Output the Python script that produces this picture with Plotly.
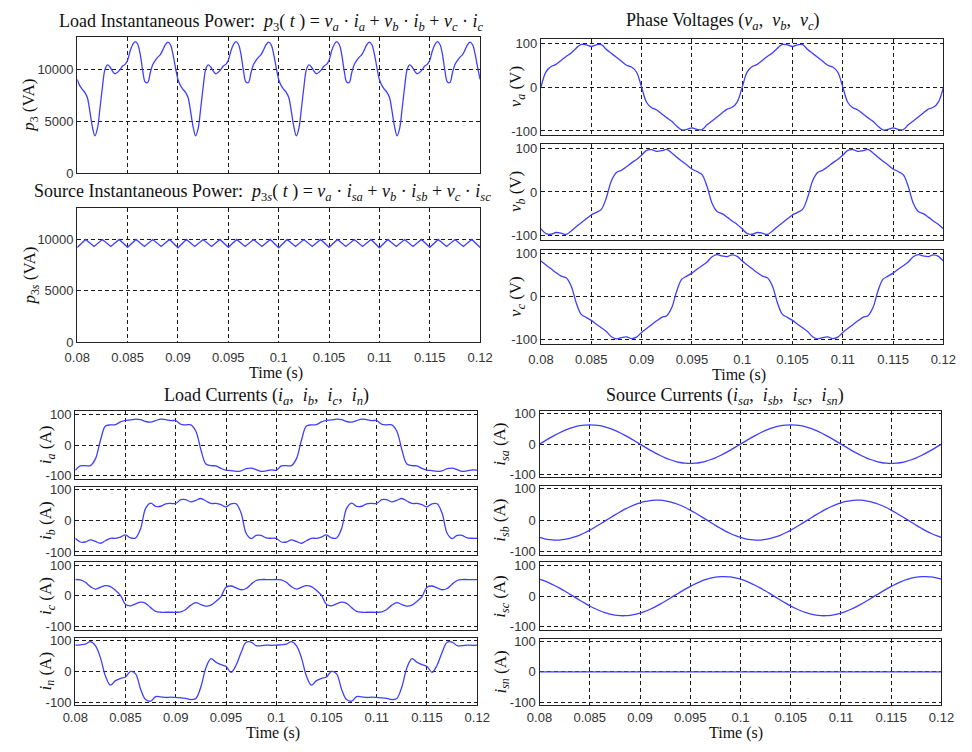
import plotly.graph_objects as go

# ---------------- sample instants (s) ----------------
t_half = [
    0.08, 0.0805, 0.081, 0.0815, 0.082, 0.0825, 0.083, 0.0835, 0.084, 0.0845,
    0.085, 0.0855, 0.086, 0.0865, 0.087, 0.0875, 0.088, 0.0885, 0.089, 0.0895,
    0.09, 0.0905, 0.091, 0.0915, 0.092, 0.0925, 0.093, 0.0935, 0.094, 0.0945,
    0.095, 0.0955, 0.096, 0.0965, 0.097, 0.0975, 0.098, 0.0985, 0.099, 0.0995,
    0.1, 0.1005, 0.101, 0.1015, 0.102, 0.1025, 0.103, 0.1035, 0.104, 0.1045,
    0.105, 0.1055, 0.106, 0.1065, 0.107, 0.1075, 0.108, 0.1085, 0.109, 0.1095,
    0.11, 0.1105, 0.111, 0.1115, 0.112, 0.1125, 0.113, 0.1135, 0.114, 0.1145,
    0.115, 0.1155, 0.116, 0.1165, 0.117, 0.1175, 0.118, 0.1185, 0.119, 0.1195,
    0.12,
]

t_quarter = [
    0.08, 0.08025, 0.0805, 0.08075, 0.081, 0.08125, 0.0815, 0.08175, 0.082, 0.08225,
    0.0825, 0.08275, 0.083, 0.08325, 0.0835, 0.08375, 0.084, 0.08425, 0.0845, 0.08475,
    0.085, 0.08525, 0.0855, 0.08575, 0.086, 0.08625, 0.0865, 0.08675, 0.087, 0.08725,
    0.0875, 0.08775, 0.088, 0.08825, 0.0885, 0.08875, 0.089, 0.08925, 0.0895, 0.08975,
    0.09, 0.09025, 0.0905, 0.09075, 0.091, 0.09125, 0.0915, 0.09175, 0.092, 0.09225,
    0.0925, 0.09275, 0.093, 0.09325, 0.0935, 0.09375, 0.094, 0.09425, 0.0945, 0.09475,
    0.095, 0.09525, 0.0955, 0.09575, 0.096, 0.09625, 0.0965, 0.09675, 0.097, 0.09725,
    0.0975, 0.09775, 0.098, 0.09825, 0.0985, 0.09875, 0.099, 0.09925, 0.0995, 0.09975,
    0.1, 0.10025, 0.1005, 0.10075, 0.101, 0.10125, 0.1015, 0.10175, 0.102, 0.10225,
    0.1025, 0.10275, 0.103, 0.10325, 0.1035, 0.10375, 0.104, 0.10425, 0.1045, 0.10475,
    0.105, 0.10525, 0.1055, 0.10575, 0.106, 0.10625, 0.1065, 0.10675, 0.107, 0.10725,
    0.1075, 0.10775, 0.108, 0.10825, 0.1085, 0.10875, 0.109, 0.10925, 0.1095, 0.10975,
    0.11, 0.11025, 0.1105, 0.11075, 0.111, 0.11125, 0.1115, 0.11175, 0.112, 0.11225,
    0.1125, 0.11275, 0.113, 0.11325, 0.1135, 0.11375, 0.114, 0.11425, 0.1145, 0.11475,
    0.115, 0.11525, 0.1155, 0.11575, 0.116, 0.11625, 0.1165, 0.11675, 0.117, 0.11725,
    0.1175, 0.11775, 0.118, 0.11825, 0.1185, 0.11875, 0.119, 0.11925, 0.1195, 0.11975,
    0.12,
]

t_ripple = [
    0.08, 0.080833, 0.081667, 0.0825, 0.083333, 0.084167, 0.085, 0.085833,
    0.086667, 0.0875, 0.088333, 0.089167, 0.09, 0.090833, 0.091667, 0.0925,
    0.093333, 0.094167, 0.095, 0.095833, 0.096667, 0.0975, 0.098333, 0.099167,
    0.1, 0.100833, 0.101667, 0.1025, 0.103333, 0.104167, 0.105, 0.105833,
    0.106667, 0.1075, 0.108333, 0.109167, 0.11, 0.110833, 0.111667, 0.1125,
    0.113333, 0.114167, 0.115, 0.115833, 0.116667, 0.1175, 0.118333, 0.119167,
    0.12,
]

# ---------------- instantaneous power (VA) ----------------
p3 = [
    9050, 8450, 8100, 7800, 7300, 6000, 4500, 3600, 4300, 6200,
    8300, 10000, 10450, 10250, 9850, 9600, 9750, 10000, 10350, 10500,
    10900, 11800, 12400, 12700, 12450, 11500, 9900, 8800, 8750, 9700,
    10500, 10900, 11200, 11450, 11900, 12400, 12650, 12400, 11500, 10200,
    9050, 8450, 8100, 7800, 7300, 6000, 4500, 3600, 4300, 6200,
    8300, 10000, 10450, 10250, 9850, 9600, 9750, 10000, 10350, 10500,
    10900, 11800, 12400, 12700, 12450, 11500, 9900, 8800, 8750, 9700,
    10500, 10900, 11200, 11450, 11900, 12400, 12650, 12400, 11500, 10200,
    9050, 8450, 8100, 7800, 7300, 6000, 4500, 3600, 4300, 6200,
    8300, 10000, 10450, 10250, 9850, 9600, 9750, 10000, 10350, 10500,
    10900, 11800, 12400, 12700, 12450, 11500, 9900, 8800, 8750, 9700,
    10500, 10900, 11200, 11450, 11900, 12400, 12650, 12400, 11500, 10200,
    9050, 8450, 8100, 7800, 7300, 6000, 4500, 3600, 4300, 6200,
    8300, 10000, 10450, 10250, 9850, 9600, 9750, 10000, 10350, 10500,
    10900, 11800, 12400, 12700, 12450, 11500, 9900, 8800, 8750, 9700,
    10500, 10900, 11200, 11450, 11900, 12400, 12650, 12400, 11500, 10200,
    9050,
]

p3s = [
    9180, 9960, 9280, 9960, 9280, 9960, 9200, 9960,
    9280, 9960, 9280, 9960, 9150, 9960, 9280, 9960,
    9280, 9960, 9200, 9960, 9280, 9960, 9280, 9960,
    9150, 9960, 9280, 9960, 9280, 9960, 9200, 9960,
    9280, 9960, 9280, 9960, 9150, 9960, 9280, 9960,
    9280, 9960, 9200, 9960, 9280, 9960, 9280, 9960,
    9180,
]

# ---------------- phase voltages (V) ----------------
va = [
    0, 35, 47, 52, 61, 70, 78, 89, 97.5, 96.5, 93, 96.5, 97, 86, 77, 68, 59, 50, 46, 34,
    0, -35, -47, -52, -61, -70, -78, -89, -97.5, -96.5, -93, -96.5, -97, -86, -77, -68, -59, -50, -46, -34,
    0, 35, 47, 52, 61, 70, 78, 89, 97.5, 96.5, 93, 96.5, 97, 86, 77, 68, 59, 50, 46, 34,
    0, -35, -47, -52, -61, -70, -78, -89, -97.5, -96.5, -93, -96.5, -97, -86, -77, -68, -59, -50, -46, -34,
    0,
]

vb = [
    -85, -96, -97.5, -93.5, -95, -98, -90, -80, -71, -62, -53, -47, -40, -13, 26, 45, 50, 58, 67, 75,
    85, 96, 97.5, 93.5, 95, 98, 90, 80, 71, 62, 53, 47, 40, 13, -26, -45, -50, -58, -67, -75,
    -85, -96, -97.5, -93.5, -95, -98, -90, -80, -71, -62, -53, -47, -40, -13, 26, 45, 50, 58, 67, 75,
    85, 96, 97.5, 93.5, 95, 98, 90, 80, 71, 62, 53, 47, 40, 13, -26, -45, -50, -58, -67, -75,
    -85,
]

vc = [
    83, 74, 65, 56, 48, 44, 25, -14, -41, -48, -55, -64, -72, -81, -93, -98, -95, -93.5, -97.5, -94,
    -83, -74, -65, -56, -48, -44, -25, 14, 41, 48, 55, 64, 72, 81, 93, 98, 95, 93.5, 97.5, 94,
    83, 74, 65, 56, 48, 44, 25, -14, -41, -48, -55, -64, -72, -81, -93, -98, -95, -93.5, -97.5, -94,
    -83, -74, -65, -56, -48, -44, -25, 14, 41, 48, 55, 64, 72, 81, 93, 98, 95, 93.5, 97.5, 94,
    83,
]

# ---------------- load currents (A) ----------------
ia = [
    -82, -68, -67, -67, -45, 15, 62, 66, 67, 76, 81, 82, 85, 83, 77, 75, 80, 85, 83, 80,
    80, 68, 66, 66, 45, -15, -62, -67, -68, -76, -82, -83, -86, -84, -77, -75, -80, -86, -84, -81,
    -82, -68, -67, -67, -45, 15, 62, 66, 67, 76, 81, 82, 85, 83, 77, 75, 80, 85, 83, 80,
    80, 68, 66, 66, 45, -15, -62, -67, -68, -76, -82, -83, -86, -84, -77, -75, -80, -86, -84, -81,
    -82,
]

ib = [
    -56, -68, -68, -61, -66, -72, -64, -56, -56, -52, -45, -55, -55, -25, 40, 57, 47, 47, 55, 56,
    56, 68, 68, 61, 66, 72, 64, 56, 56, 52, 45, 55, 55, 25, -40, -57, -47, -47, -55, -56,
    -56, -68, -68, -61, -66, -72, -64, -56, -56, -52, -45, -55, -55, -25, 40, 57, 47, 47, 55, 56,
    56, 68, 68, 61, 66, 72, 64, 56, 56, 52, 45, 55, 55, 25, -40, -57, -47, -47, -55, -56,
    -56,
]

ic = [
    53, 52, 44, 30, 22, 28, 33, 30, 18, 2, -28, -32, -26, -20, -24, -38, -50, -53, -53, -53,
    -53, -52, -44, -30, -22, -28, -33, -30, -18, -2, 28, 32, 26, 20, 24, 38, 50, 53, 53, 53,
    53, 52, 44, 30, 22, 28, 33, 30, 18, 2, -28, -32, -26, -20, -24, -38, -50, -53, -53, -53,
    -53, -52, -44, -30, -22, -28, -33, -30, -18, -2, 28, 32, 26, 20, 24, 38, 50, 53, 53, 53,
    53,
]

i_n = [
    86, 87, 89, 97, 84, 45, -15, -45, -30, -23, -18, 0, -8, -58, -92, -97, -82, -83, -85, -84,
    -85, -86, -88, -92, -88, -50, 12, 42, 30, 22, 16, -3, 20, 62, 95, 96, 84, 84, 86, 85,
    86, 87, 89, 97, 84, 45, -15, -45, -30, -23, -18, 0, -8, -58, -92, -97, -82, -83, -85, -84,
    -85, -86, -88, -92, -88, -50, 12, 42, 30, 22, 16, -3, 20, 62, 95, 96, 84, 84, 86, 85,
    86,
]

# ---------------- source currents (A) ----------------
isa = [
    0, 10.0, 19.8, 29.1, 37.6, 45.3, 51.8, 57.0, 60.9, 63.2, 64, 63.2, 60.9, 57.0, 51.8, 45.3, 37.6, 29.1, 19.8, 10.0,
    0, -10.0, -19.8, -29.1, -37.6, -45.3, -51.8, -57.0, -60.9, -63.2, -64, -63.2, -60.9, -57.0, -51.8, -45.3, -37.6, -29.1, -19.8, -10.0,
    0, 10.0, 19.8, 29.1, 37.6, 45.3, 51.8, 57.0, 60.9, 63.2, 64, 63.2, 60.9, 57.0, 51.8, 45.3, 37.6, 29.1, 19.8, 10.0,
    0, -10.0, -19.8, -29.1, -37.6, -45.3, -51.8, -57.0, -60.9, -63.2, -64, -63.2, -60.9, -57.0, -51.8, -45.3, -37.6, -29.1, -19.8, -10.0,
    0,
]

isb = [
    -55.4, -59.8, -62.6, -63.9, -63.6, -61.8, -58.5, -53.7, -47.6, -40.3, -32.0, -22.9, -13.3, -3.3, 6.7, 16.6, 26.0, 34.9, 42.8, 49.7,
    55.4, 59.8, 62.6, 63.9, 63.6, 61.8, 58.5, 53.7, 47.6, 40.3, 32.0, 22.9, 13.3, 3.3, -6.7, -16.6, -26.0, -34.9, -42.8, -49.7,
    -55.4, -59.8, -62.6, -63.9, -63.6, -61.8, -58.5, -53.7, -47.6, -40.3, -32.0, -22.9, -13.3, -3.3, 6.7, 16.6, 26.0, 34.9, 42.8, 49.7,
    55.4, 59.8, 62.6, 63.9, 63.6, 61.8, 58.5, 53.7, 47.6, 40.3, 32.0, 22.9, 13.3, 3.3, -6.7, -16.6, -26.0, -34.9, -42.8, -49.7,
    -55.4,
]

isc = [
    55.4, 49.7, 42.8, 34.9, 26.0, 16.6, 6.7, -3.3, -13.3, -22.9, -32.0, -40.3, -47.6, -53.7, -58.5, -61.8, -63.6, -63.9, -62.6, -59.8,
    -55.4, -49.7, -42.8, -34.9, -26.0, -16.6, -6.7, 3.3, 13.3, 22.9, 32.0, 40.3, 47.6, 53.7, 58.5, 61.8, 63.6, 63.9, 62.6, 59.8,
    55.4, 49.7, 42.8, 34.9, 26.0, 16.6, 6.7, -3.3, -13.3, -22.9, -32.0, -40.3, -47.6, -53.7, -58.5, -61.8, -63.6, -63.9, -62.6, -59.8,
    -55.4, -49.7, -42.8, -34.9, -26.0, -16.6, -6.7, 3.3, 13.3, 22.9, 32.0, 40.3, 47.6, 53.7, 58.5, 61.8, 63.6, 63.9, 62.6, 59.8,
    55.4,
]

isn = [0] * 81

# ---------------- ticks ----------------
x_ticks = [0.08, 0.085, 0.09, 0.095, 0.1, 0.105, 0.11, 0.115, 0.12]
x_tick_text = ["0.08", "0.085", "0.09", "0.095", "0.1", "0.105", "0.11", "0.115", "0.12"]
power_ticks = [0, 5000, 10000]
power_tick_text = ["0", "5000", "10000"]
amp_ticks = [-100, 0, 100]
amp_tick_text = ["-100", "0", "100"]

# ---------------- styling ----------------
FIG_W, FIG_H = 972, 752
TRACE_COLOR = "#3f3fff"
SERIF = "Liberation Serif, Times New Roman, serif"
SANS = "Liberation Sans, Arial, sans-serif"
TICK_FONT = dict(family=SANS, size=13, color="#333333")


def fx(px):
    return px / FIG_W


def fy(px):
    return 1 - px / FIG_H


def sub(base, s):
    return f"<i>{base}</i><sub><i>{s}</i></sub>"


# (t, y, left, right, top, bottom, y-range, ticks, tick text, y-label, label x,
#  x-label standoff or None, line shape)
panels = [
    (t_quarter, p3, 66, 480, 34, 172, [0, 13100], power_ticks, power_tick_text,
     "<i>p</i><sub>3</sub> (VA)", 18, None, "spline"),
    (t_ripple, p3s, 66, 480, 207.5, 343.5, [0, 13000], power_ticks, power_tick_text,
     "<i>p</i><sub>3<i>s</i></sub> (VA)", 19, 3, "linear"),
    (t_half, va, 542.5, 956, 35.5, 133.5, [-110, 110], amp_ticks, amp_tick_text,
     sub("v", "a") + " (V)", 518, None, "spline"),
    (t_half, vb, 542.5, 956, 142.5, 239.5, [-110, 110], amp_ticks, amp_tick_text,
     sub("v", "b") + " (V)", 518, None, "spline"),
    (t_half, vc, 542.5, 956, 249.5, 345.5, [-110, 110], amp_ticks, amp_tick_text,
     sub("v", "c") + " (V)", 518, 3, "spline"),
    (t_half, ia, 64, 477, 414, 482.5, [-110, 110], amp_ticks, amp_tick_text,
     sub("i", "a") + " (A)", 35, None, "spline"),
    (t_half, ib, 64, 477, 490.5, 560, [-110, 110], amp_ticks, amp_tick_text,
     sub("i", "b") + " (A)", 35, None, "spline"),
    (t_half, ic, 64, 477, 567, 636, [-110, 110], amp_ticks, amp_tick_text,
     sub("i", "c") + " (A)", 35, None, "spline"),
    (t_half, i_n, 64, 477, 644, 712.5, [-110, 110], amp_ticks, amp_tick_text,
     sub("i", "n") + " (A)", 35, 0, "spline"),
    (t_half, isa, 541, 954, 413.5, 481, [-110, 110], amp_ticks, amp_tick_text,
     sub("i", "sa") + " (A)", 502, None, "spline"),
    (t_half, isb, 541, 954, 489.5, 559.5, [-110, 110], amp_ticks, amp_tick_text,
     sub("i", "sb") + " (A)", 502, None, "spline"),
    (t_half, isc, 541, 954, 567.5, 636, [-110, 110], amp_ticks, amp_tick_text,
     sub("i", "sc") + " (A)", 502, None, "spline"),
    (t_half, isn, 541, 954, 645, 712.5, [-110, 110], amp_ticks, amp_tick_text,
     sub("i", "sn") + " (A)", 502, 0, "spline"),
]

fig = go.Figure()
layout_axes = {}
annotations = []

for k, (t, y, left, right, top, bottom, yr, yt, ytt, ylab, lab_x, x_standoff, shape) in enumerate(panels, start=1):
    suffix = "" if k == 1 else str(k)
    line = dict(color=TRACE_COLOR, width=1.3, shape=shape)
    if shape == "spline":
        line["smoothing"] = 1.0
    fig.add_trace(go.Scatter(
        x=t, y=y, mode="lines", line=line,
        xaxis="x" + suffix, yaxis="y" + suffix,
        hoverinfo="skip", showlegend=False,
    ))
    common = dict(
        showgrid=True, gridcolor="#1a1a1a", gridwidth=1, griddash="4px,3px",
        showline=True, mirror=True, linecolor="#222222", linewidth=1.2,
        zeroline=False, ticks="", tickfont=TICK_FONT, fixedrange=True,
    )
    xaxis = dict(
        domain=[fx(left), fx(right)], anchor="y" + suffix,
        range=[0.08, 0.12], tickmode="array", tickvals=x_ticks, ticktext=x_tick_text,
        showticklabels=x_standoff is not None, **common,
    )
    if x_standoff is not None:
        xaxis["ticklabelstandoff"] = x_standoff
    layout_axes["xaxis" + suffix] = xaxis
    layout_axes["yaxis" + suffix] = dict(
        domain=[fy(bottom), fy(top)], anchor="x" + suffix,
        range=yr, tickmode="array", tickvals=yt, ticktext=ytt,
        showticklabels=True, **common,
    )
    annotations.append(dict(
        text=ylab, x=fx(lab_x), y=fy((top + bottom) / 2), xref="paper", yref="paper",
        xanchor="center", yanchor="middle", textangle=-90, showarrow=False,
        font=dict(family=SERIF, size=17, color="#111111"),
    ))


def text_at(text, x, y, size, yanchor="middle"):
    annotations.append(dict(
        text=text, x=fx(x), y=fy(y), xref="paper", yref="paper",
        xanchor="center", yanchor=yanchor, showarrow=False,
        font=dict(family=SERIF, size=size, color="#111111"),
    ))


dot = " · "
text_at("Load Instantaneous Power:  <i>p</i><sub>3</sub>( <i>t</i> ) = "
        + sub("v", "a") + dot + sub("i", "a") + " + "
        + sub("v", "b") + dot + sub("i", "b") + " + "
        + sub("v", "c") + dot + sub("i", "c"), 266, 19, 18)
text_at("Source Instantaneous Power:  <i>p</i><sub>3<i>s</i></sub>( <i>t</i> ) = "
        + sub("v", "a") + dot + sub("i", "sa") + " + "
        + sub("v", "b") + dot + sub("i", "sb") + " + "
        + sub("v", "c") + dot + sub("i", "sc"), 256, 192, 18)
text_at("Phase Voltages (" + sub("v", "a") + ",  " + sub("v", "b") + ",  "
        + sub("v", "c") + ")", 730, 18, 18)
text_at("Load Currents (" + sub("i", "a") + ",  " + sub("i", "b") + ",  "
        + sub("i", "c") + ",  " + sub("i", "n") + ")", 260, 399, 18)
text_at("Source Currents (" + sub("i", "sa") + ",  " + sub("i", "sb") + ",  "
        + sub("i", "sc") + ",  " + sub("i", "sn") + ")", 732, 399, 18)

# time-axis captions: upper row centred, lower row sitting on the page bottom
text_at("Time (s)", 270, 375, 16)
text_at("Time (s)", 746, 377, 16)
text_at("Time (s)", 267, 752, 16, yanchor="bottom")
text_at("Time (s)", 743, 752, 16, yanchor="bottom")

fig.update_layout(
    width=FIG_W, height=FIG_H,
    margin=dict(l=0, r=0, t=0, b=0),
    paper_bgcolor="white", plot_bgcolor="white",
    showlegend=False,
    annotations=annotations,
    **layout_axes,
)

fig.write_html("out.html")
